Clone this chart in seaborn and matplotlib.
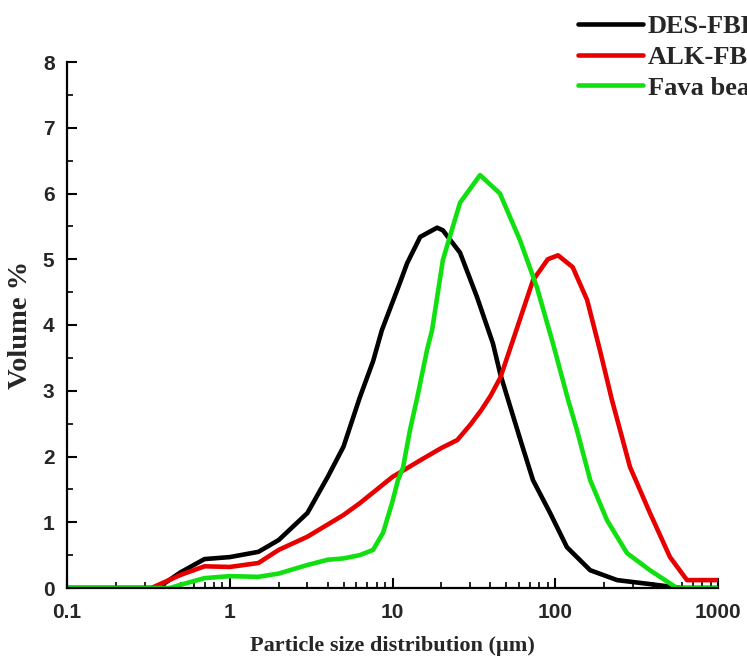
import matplotlib
matplotlib.use("Agg")
import matplotlib.pyplot as plt
import matplotlib.ticker as mticker
import numpy as np
import pandas as pd
import seaborn as sns

# ---- data ----
series_names = ["DES-FBP", "ALK-FBP", "Fava bean"]

des_x = [0.1, 0.36, 0.5, 0.7, 1.0, 1.5, 2, 3, 4, 5, 6.3, 7.6, 8.6, 11.1, 12.3, 14.8,
         18.8, 20.4, 26, 33, 41.4, 46, 53, 62, 73, 93, 118, 164, 240, 380, 590, 1000]
des_y = [0, 0, 0.24, 0.44, 0.47, 0.55, 0.73, 1.14, 1.69, 2.15, 2.9, 3.45, 3.92, 4.64, 4.94, 5.34,
         5.48, 5.44, 5.1, 4.43, 3.72, 3.25, 2.75, 2.2, 1.64, 1.14, 0.62, 0.27, 0.12, 0.06, 0.0, 0.0]

alk_x = [0.1, 0.33, 0.5, 0.7, 1.0, 1.5, 2, 3, 5, 6.3, 10, 15, 20, 25, 30, 35, 40, 46, 55,
         73, 90, 104, 128, 157, 188, 223, 288, 382, 507, 645, 1000]
alk_y = [0, 0, 0.2, 0.33, 0.32, 0.38, 0.58, 0.78, 1.11, 1.29, 1.69, 1.95, 2.13, 2.25, 2.48, 2.7, 2.92, 3.2, 3.77,
         4.68, 5.0, 5.06, 4.88, 4.38, 3.62, 2.86, 1.84, 1.14, 0.47, 0.12, 0.12]

fava_x = [0.1, 0.43, 0.5, 0.7, 1, 1.5, 2, 3, 4, 5, 6.3, 7.6, 8.75, 9.93, 10.8, 11.6, 12.8, 14.2,
          16.3, 17.5, 20.4, 26, 34.5, 45.7, 60.7, 77, 96.8, 120, 136, 164, 208, 276, 382, 560, 1000]
fava_y = [0, 0, 0.05, 0.15, 0.18, 0.17, 0.22, 0.35, 0.43, 0.45, 0.5, 0.58, 0.84, 1.29, 1.64, 1.83, 2.4, 2.9,
          3.62, 3.92, 4.99, 5.86, 6.28, 6.0, 5.29, 4.58, 3.72, 2.86, 2.4, 1.64, 1.03, 0.53, 0.27, 0.0, 0.0]

x_ticks = [0.1, 1, 10, 100, 1000]
x_tick_labels = ["0.1", "1", "10", "100", "1000"]
y_ticks = [0, 1, 2, 3, 4, 5, 6, 7, 8]

colors = ["#000000", "#e80000", "#10e010"]

frames = []
for name, xs, ys in zip(series_names, [des_x, alk_x, fava_x], [des_y, alk_y, fava_y]):
    frames.append(pd.DataFrame({"size": xs, "vol": ys, "sample": name}))
df = pd.concat(frames, ignore_index=True)

sns.set_style("ticks")
plt.rcParams["font.family"] = ["Liberation Serif", "DejaVu Serif"]

fig = plt.figure(figsize=(7.47, 6.66), dpi=100)
ax = fig.add_axes([67 / 747, 78 / 666, 651 / 747, 526 / 666])

sns.lineplot(data=df, x="size", y="vol", hue="sample", hue_order=series_names,
             palette=colors, linewidth=3.3, sort=False, estimator=None, ax=ax,
             legend=False)

ax.set_xscale("log")
ax.set_xlim(0.1, 1000)
ax.set_ylim(0, 8)
ax.set_xticks(x_ticks)
ax.xaxis.set_major_formatter(mticker.FixedFormatter(x_tick_labels))
ax.xaxis.set_minor_locator(mticker.LogLocator(base=10, subs=np.arange(2, 10)))
ax.xaxis.set_minor_formatter(mticker.NullFormatter())
ax.set_yticks(y_ticks)
ax.yaxis.set_minor_locator(mticker.MultipleLocator(0.5))

for s in ["top", "right"]:
    ax.spines[s].set_visible(False)
for s in ["left", "bottom"]:
    ax.spines[s].set_linewidth(1.6)
    ax.spines[s].set_color("black")

ax.tick_params(axis="both", which="major", direction="in", length=7, width=1.5, color="black")
ax.tick_params(axis="both", which="minor", direction="in", length=4, width=1.2, color="black")
ax.tick_params(axis="x", which="major", pad=11)
ax.tick_params(axis="y", which="major", pad=9)
for lab in ax.get_xticklabels() + ax.get_yticklabels():
    lab.set_fontfamily("Liberation Sans")
    lab.set_fontweight("bold")
    lab.set_fontsize(15)

ax.set_xlabel("Particle size distribution (µm)", fontsize=16, fontweight="bold", labelpad=10)
ax.set_ylabel("Volume %", fontsize=20.5, fontweight="bold", labelpad=7)

handles = [plt.Line2D([], [], color=c, linewidth=3.3) for c in colors]
fig.legend(handles, series_names, loc="upper left",
           bbox_to_anchor=(578 / 747, 1 - 15 / 666), bbox_transform=fig.transFigure,
           frameon=False, prop={"family": "Liberation Serif", "weight": "bold", "size": 19},
           handlelength=2.46, handletextpad=0.19, borderpad=0, borderaxespad=0,
           labelspacing=0.27)

fig.savefig("out.png", dpi=100)
